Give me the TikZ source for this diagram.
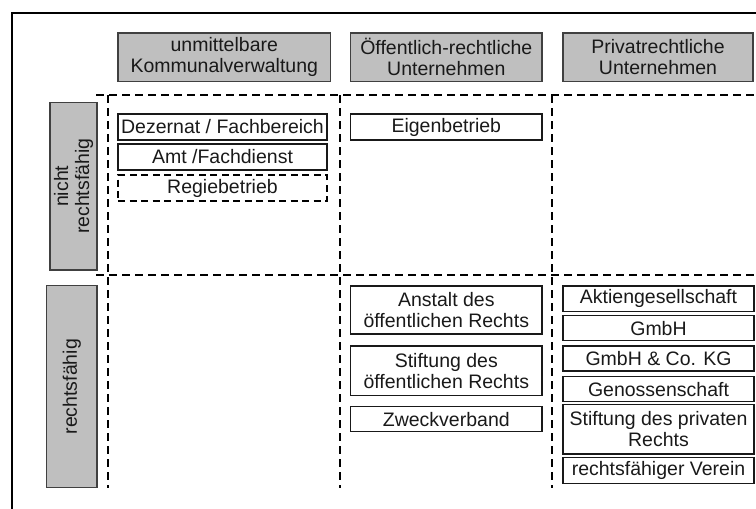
\documentclass[tikz,border=0pt]{standalone}
\usepackage{fontspec}
\setmainfont{Liberation Sans}
\begin{document}
\begin{tikzpicture}[x=1pt,y=-1pt]
	\tikzstyle{every node}+=[inner sep=0pt, align=center, text=black!90, font=\fontsize{19.5}{21}\selectfont]
	\tikzstyle{head}=[draw=black!75, fill=black!25, line width=1.2pt]
	\tikzstyle{item}=[draw=black!90, line width=1.2pt]
	\tikzstyle{grid}=[black, line width=1.6pt, dash pattern=on 8pt off 5pt]
	\clip (0,0) rectangle (756,509);
	\draw [black, line width=2pt] (12,13) rectangle (790,540);
	\node [head, minimum width=212.7pt, minimum height=48.7pt] (kommunal) at (224.3,57.3) {unmittelbare\\Kommunalverwaltung};
	\node [head, minimum width=191.3pt, minimum height=48.7pt] (oeffentlich) at (446.3,57.3) {Öffentlich-rechtliche\\Unternehmen};
	\node [head, minimum width=190pt, minimum height=48.7pt] (privat) at (658,57.3) {Privatrechtliche\\Unternehmen};
	\node [head, rotate=90, minimum width=167.3pt, minimum height=47pt] (nicht) at (73.5,186.3) {nicht\\rechtsfähig};
	\node [head, rotate=90, minimum width=202pt, minimum height=50.3pt] (faehig) at (71.8,386.7) {rechtsfähig};
	\coordinate (top west) at (96,95);
	\coordinate (top east) at (756,95);
	\coordinate (mid west) at (96,275);
	\coordinate (mid east) at (756,275);
	\coordinate (a top) at (108,95);
	\coordinate (a bottom) at (108,488);
	\coordinate (b top) at (340,95);
	\coordinate (b bottom) at (340,488);
	\coordinate (c top) at (552,95);
	\coordinate (c bottom) at (552,488);
	\draw [grid] (top west) -- (top east);
	\draw [grid] (mid west) -- (mid east);
	\draw [grid] (a top) -- (a bottom);
	\draw [grid] (b top) -- (b bottom);
	\draw [grid] (c top) -- (c bottom);
	\node [item, minimum width=209pt, minimum height=26pt] (dezernat) at (222.5,127) {Dezernat / Fachbereich};
	\node [item, minimum width=209pt, minimum height=26pt] (amt) at (222.5,157) {Amt /Fachdienst};
	\node [item, draw=black, line width=1.6pt, dash pattern=on 7pt off 4.5pt, minimum width=209pt, minimum height=26pt] (regie) at (222.5,188) {Regiebetrieb};
	\node [item, minimum width=191.3pt, minimum height=26pt] (eigen) at (446.3,127) {Eigenbetrieb};
	\node [item, minimum width=191.3pt, minimum height=48pt] (anstalt) at (446.3,310) {Anstalt des\\öffentlichen Rechts};
	\node [item, minimum width=191.3pt, minimum height=49.7pt] (stiftoeff) at (446.3,370.8) {Stiftung des\\öffentlichen Rechts};
	\node [item, minimum width=191.3pt, minimum height=25pt] (zweck) at (446.3,419.2) {Zweckverband};
	\node [item, minimum width=191pt, minimum height=25.7pt] (ag) at (658.5,298.8) {Aktiengesellschaft};
	\node [item, minimum width=191pt, minimum height=25pt] (gmbh) at (658.5,328.2) {GmbH};
	\node [item, minimum width=191pt, minimum height=25pt] (kg) at (658.5,358.5) {GmbH \& Co. KG};
	\node [item, minimum width=191pt, minimum height=25pt] (geno) at (658.5,389.2) {Genossenschaft};
	\node [item, minimum width=191pt, minimum height=49.7pt] (stiftpriv) at (658.5,429.2) {Stiftung des privaten\\Rechts};
	\node [item, minimum width=191pt, minimum height=26pt] (verein) at (658.5,470.3) {rechtsfähiger Verein};
\end{tikzpicture}
\end{document}
